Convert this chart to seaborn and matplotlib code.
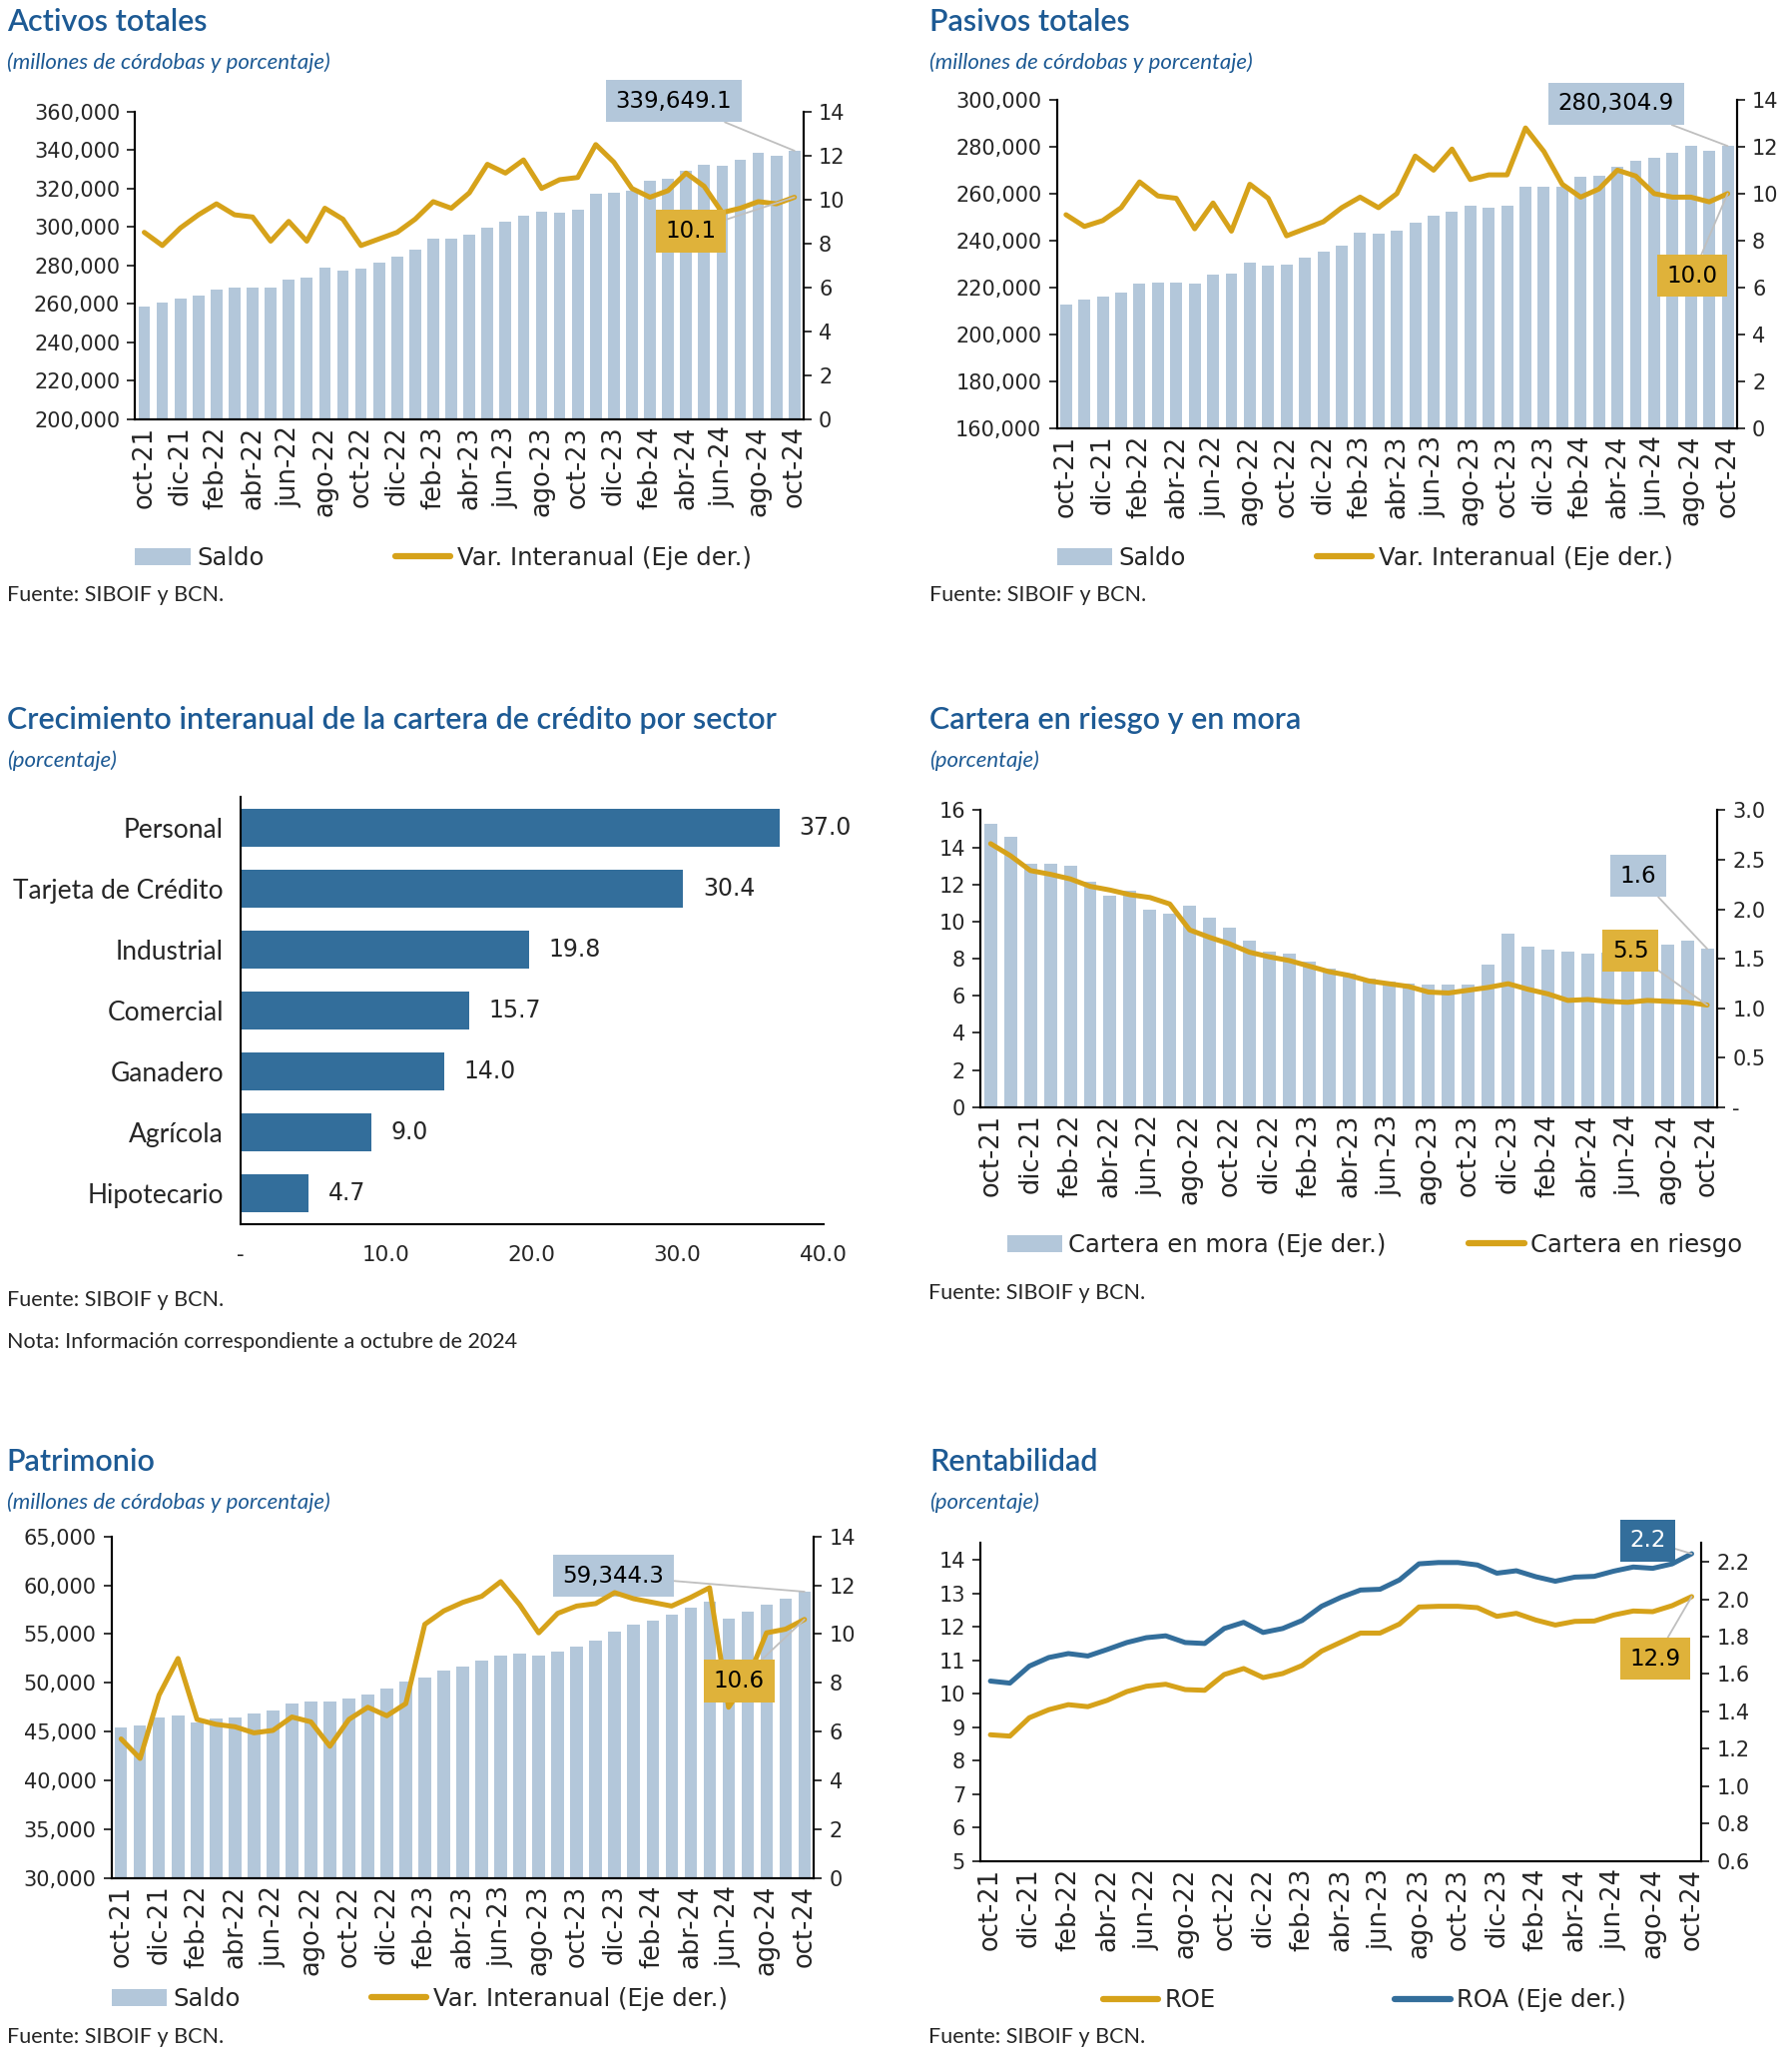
import numpy as np
import pandas as pd
import seaborn as sns
import matplotlib.pyplot as plt
from matplotlib.ticker import FuncFormatter
from matplotlib.lines import Line2D
from matplotlib.patches import Patch

# meses oct-21 .. oct-24
months = ['oct-21', 'nov-21', 'dic-21', 'ene-22', 'feb-22', 'mar-22', 'abr-22', 'may-22', 'jun-22',
          'jul-22', 'ago-22', 'sep-22', 'oct-22', 'nov-22', 'dic-22', 'ene-23', 'feb-23', 'mar-23',
          'abr-23', 'may-23', 'jun-23', 'jul-23', 'ago-23', 'sep-23', 'oct-23', 'nov-23', 'dic-23',
          'ene-24', 'feb-24', 'mar-24', 'abr-24', 'may-24', 'jun-24', 'jul-24', 'ago-24', 'sep-24',
          'oct-24']

activos_saldo = [258300, 260800, 262600, 264300, 267600, 268200, 268600, 268600, 272500, 273600,
                 278800, 277100, 278100, 281600, 284300, 288300, 294000, 294000, 296100, 299600,
                 302900, 305800, 307900, 307500, 309100, 317000, 318000, 318600, 323800, 324800,
                 329400, 332300, 331700, 335000, 338500, 337200, 339649.1]
activos_var = [8.5, 7.9, 8.7, 9.3, 9.8, 9.3, 9.2, 8.1, 9.0, 8.1,
               9.6, 9.1, 7.9, 8.2, 8.5, 9.1, 9.9, 9.6, 10.3, 11.6,
               11.2, 11.8, 10.5, 10.9, 11.0, 12.5, 11.7, 10.5, 10.1, 10.4,
               11.2, 10.6, 9.4, 9.6, 9.9, 9.8, 10.1]

pasivos_saldo = [212500, 215000, 216000, 217600, 221600, 222100, 222100, 221600, 225500, 226000,
                 230600, 229100, 229900, 232800, 235200, 237700, 243300, 243000, 244300, 247500,
                 250400, 252400, 255000, 254000, 255000, 262800, 262800, 262800, 267300, 267800,
                 271400, 273800, 275100, 277500, 280200, 278300, 280304.9]
pasivos_var = [9.1, 8.6, 8.85, 9.4, 10.5, 9.9, 9.8, 8.5, 9.6, 8.4,
               10.4, 9.8, 8.2, 8.5, 8.8, 9.4, 9.85, 9.4, 10.0, 11.6,
               11.0, 11.9, 10.6, 10.8, 10.8, 12.8, 11.8, 10.4, 9.85, 10.2,
               11.0, 10.75, 10.0, 9.85, 9.85, 9.65, 10.0]

sectores = ['Personal', 'Tarjeta de Crédito', 'Industrial', 'Comercial', 'Ganadero', 'Agrícola', 'Hipotecario']
crecimiento = [37.0, 30.4, 19.8, 15.7, 14.0, 9.0, 4.7]

mora = [2.86, 2.73, 2.46, 2.46, 2.44, 2.28, 2.14, 2.19, 2.00, 1.96,
        2.04, 1.91, 1.81, 1.68, 1.57, 1.55, 1.47, 1.40, 1.35, 1.30,
        1.27, 1.25, 1.24, 1.24, 1.24, 1.44, 1.75, 1.62, 1.59, 1.57,
        1.55, 1.56, 1.57, 1.60, 1.64, 1.68, 1.60]
riesgo = [14.2, 13.55, 12.75, 12.55, 12.3, 11.9, 11.7, 11.45, 11.3, 10.95,
          9.55, 9.15, 8.8, 8.35, 8.1, 7.9, 7.6, 7.3, 7.1, 6.8,
          6.65, 6.5, 6.2, 6.15, 6.3, 6.45, 6.65, 6.35, 6.1, 5.75,
          5.8, 5.7, 5.65, 5.75, 5.7, 5.65, 5.5]

patr_saldo = [45400, 45600, 46400, 46700, 45950, 46300, 46500, 46860, 47190, 47850,
              48060, 48060, 48400, 48850, 49400, 50170, 50590, 51300, 51710, 52250,
              52820, 53030, 52820, 53240, 53690, 54350, 55220, 55930, 56340, 57000,
              57710, 58370, 56550, 57340, 58000, 58660, 59344.3]
patr_var = [5.7, 4.9, 7.5, 9.0, 6.5, 6.3, 6.2, 5.95, 6.05, 6.6,
            6.4, 5.4, 6.5, 7.0, 6.65, 7.15, 10.4, 10.95, 11.3, 11.55,
            12.15, 11.2, 10.05, 10.85, 11.15, 11.25, 11.7, 11.45, 11.3, 11.15,
            11.5, 11.9, 7.0, 8.15, 10.05, 10.2, 10.6]

roe = [8.77, 8.73, 9.28, 9.52, 9.67, 9.61, 9.80, 10.06, 10.22, 10.28,
       10.12, 10.10, 10.57, 10.75, 10.48, 10.60, 10.84, 11.27, 11.54, 11.81,
       11.81, 12.08, 12.59, 12.61, 12.61, 12.57, 12.31, 12.40, 12.20, 12.05,
       12.16, 12.17, 12.35, 12.47, 12.45, 12.63, 12.9]
roa = [1.562, 1.551, 1.642, 1.688, 1.709, 1.696, 1.731, 1.768, 1.794, 1.804,
       1.768, 1.763, 1.843, 1.876, 1.822, 1.843, 1.886, 1.962, 2.010, 2.049,
       2.053, 2.103, 2.189, 2.196, 2.196, 2.183, 2.139, 2.152, 2.120, 2.096,
       2.118, 2.122, 2.150, 2.172, 2.165, 2.189, 2.243]

# colours
BAR = '#b3c7da'
GOLD = '#d6a21a'
GOLD_BOX = '#dfb23a'
BLUE = '#336e9b'
TITLE = '#1d5a94'
LEAD = '#bfbfbf'

sns.set_style("white")
plt.rcParams['font.family'] = ['DejaVu Sans']
plt.rcParams['axes.edgecolor'] = 'black'
plt.rcParams['axes.linewidth'] = 1.5
HEAD_FONT = ['Lato', 'DejaVu Sans']

# layout measured on a 1365 x 1561 grid of the reference
W, H = 1365, 1561


def rect(l, t, r, b):
    return [l / W, 1 - b / H, (r - l) / W, (b - t) / H]


def fp(x, y):
    return (x / W, 1 - y / H)


fig = plt.figure(figsize=(17.95, 20.53), dpi=100)
fig.patch.set_facecolor('white')


def header(x, yt, title, sub):
    fig.text(*fp(x, yt), title, fontsize=22, color=TITLE, family=HEAD_FONT, weight='semibold', va='center')
    fig.text(*fp(x, yt + 31), sub, fontsize=16, color=TITLE, family=HEAD_FONT, style='italic', va='center')


def source(x, y, txt='Fuente: SIBOIF y BCN.'):
    fig.text(*fp(x, y), txt, fontsize=15.5, family=HEAD_FONT, va='center')


def month_axis(ax):
    ax.set_xlim(-0.5, 36.5)
    ax.set_xticks(range(0, 37, 2))
    ax.set_xticklabels(months[::2], rotation=90)
    ax.set_xticks(np.arange(-0.5, 36, 2), minor=True)
    ax.tick_params(axis='x', which='major', length=0, pad=5, labelsize=18.5)
    ax.tick_params(axis='x', which='minor', length=7, width=1.3, direction='out')
    ax.set_xlabel('')


def y_style(ax):
    ax.tick_params(axis='y', length=6, width=1.3, direction='out', labelsize=15, pad=5)
    ax.set_ylabel('')
    ax.spines['top'].set_visible(False)


def legend(items, x, y, spacing):
    handles, labels = [], []
    for kind, col, lab in items:
        if kind == 'bar':
            handles.append(Patch(facecolor=col, edgecolor='none'))
        else:
            handles.append(Line2D([], [], color=col, lw=4.5))
        labels.append(lab)
    fig.legend(handles, labels, loc='center left', bbox_to_anchor=fp(x, y), ncol=2, frameon=False,
               fontsize=17.5, handlelength=2.27, handletextpad=0.27, columnspacing=spacing,
               borderpad=0, borderaxespad=0)


def tag(ax, text, xy, pos, fc, color='black'):
    ax.annotate(text, xy=xy, xytext=fp(*pos), textcoords='figure fraction', ha='center', va='center',
                fontsize=16.5, color=color, zorder=10,
                bbox=dict(boxstyle='square,pad=0.42', fc=fc, ec='none'),
                arrowprops=dict(arrowstyle='-', color=LEAD, lw=1.3, shrinkA=0, shrinkB=0))


def saldo_panel(r, saldo, var, ylim, step, box_s, box_v, head, leg_y, src_y):
    df = pd.DataFrame({'mes': months, 'saldo': saldo, 'var': var, 'i': np.arange(len(months))})
    ax = fig.add_axes(rect(*r))
    sns.barplot(data=df, x='mes', y='saldo', color=BAR, saturation=1, width=0.65, linewidth=0, ax=ax)
    ax2 = ax.twinx()
    sns.lineplot(data=df, x='i', y='var', color=GOLD, lw=3.6, ax=ax2, solid_capstyle='round')
    ax.set_ylim(*ylim)
    ax.set_yticks(np.arange(ylim[0], ylim[1] + 1, step))
    ax.yaxis.set_major_formatter(FuncFormatter(lambda v, p: f'{v:,.0f}'))
    ax2.set_ylim(0, 14)
    ax2.set_yticks(range(0, 15, 2))
    y_style(ax)
    y_style(ax2)
    month_axis(ax)
    tag(ax, f'{saldo[-1]:,.1f}', (36, saldo[-1]), box_s, BAR)
    tag(ax2, f'{var[-1]:.1f}', (36, var[-1]), box_v, GOLD_BOX)
    header(head[0], head[1], head[2], '(millones de córdobas y porcentaje)')
    legend([('bar', BAR, 'Saldo'), ('line', GOLD, 'Var. Interanual (Eje der.)')],
           r[0], leg_y, 5.4)
    source(head[0], src_y)


# Activos totales
saldo_panel((103, 85, 612, 319), activos_saldo, activos_var, (200000, 360000), 20000,
            (513, 77), (526, 176), (5, 17, 'Activos totales'), 425, 453)

# Pasivos totales
saldo_panel((805, 76, 1323, 326), pasivos_saldo, pasivos_var, (160000, 300000), 20000,
            (1231, 79), (1289, 210), (708, 17, 'Pasivos totales'), 425, 453)

# Patrimonio
saldo_panel((85, 1170, 620, 1430), patr_saldo, patr_var, (30000, 65000), 5000,
            (467, 1200), (563, 1280), (5, 1113, 'Patrimonio'), 1522, 1551)

# credito por sector
dfc = pd.DataFrame({'sector': sectores, 'crec': crecimiento})
axc = fig.add_axes(rect(183, 607, 627, 932))
sns.barplot(data=dfc, x='crec', y='sector', orient='h', color=BLUE, saturation=1, width=0.62,
            linewidth=0, ax=axc)
axc.set_xlim(0, 40)
axc.set_xticks([0, 10, 20, 30, 40])
axc.xaxis.set_major_formatter(FuncFormatter(lambda v, p: '-' if v == 0 else f'{v:.1f}'))
axc.set_ylim(6.5, -0.5)
axc.set_yticks(np.arange(-0.5, 7, 1), minor=True)
axc.tick_params(axis='y', which='major', length=0, pad=12, labelsize=19)
axc.tick_params(axis='y', which='minor', length=7, width=1.3, direction='out')
axc.tick_params(axis='x', length=7, width=1.3, direction='out', labelsize=15.5, pad=8)
for lbl in axc.get_yticklabels():
    lbl.set_fontfamily(HEAD_FONT)
axc.bar_label(axc.containers[0], fmt='%.1f', padding=14, fontsize=17)
axc.set_xlabel('')
axc.set_ylabel('')
sns.despine(ax=axc)
header(5, 548, 'Crecimiento interanual de la cartera de crédito por sector', '(porcentaje)')
source(5, 990)
source(5, 1022, 'Nota: Información correspondiente a octubre de 2024')

# cartera en riesgo y en mora
dfr = pd.DataFrame({'mes': months, 'mora': mora, 'riesgo': riesgo, 'i': np.arange(len(months))})
axr = fig.add_axes(rect(747, 617, 1308, 843))
axr2 = axr.twinx()
sns.barplot(data=dfr, x='mes', y='mora', color=BAR, saturation=1, width=0.65, linewidth=0, ax=axr2)
sns.lineplot(data=dfr, x='i', y='riesgo', color=GOLD, lw=3.6, ax=axr, solid_capstyle='round')
axr.set_zorder(axr2.get_zorder() + 1)
axr.patch.set_visible(False)
axr.set_ylim(0, 16)
axr.set_yticks(range(0, 17, 2))
axr2.set_ylim(0, 3)
axr2.set_yticks(np.arange(0, 3.01, 0.5))
axr2.yaxis.set_major_formatter(FuncFormatter(lambda v, p: '-' if v == 0 else f'{v:.1f}'))
y_style(axr)
y_style(axr2)
month_axis(axr)
tag(axr2, f'{mora[-1]:.1f}', (36, mora[-1]), (1248, 667), BAR)
tag(axr, f'{riesgo[-1]:.1f}', (36, riesgo[-1]), (1242, 724), GOLD_BOX)
header(708, 548, 'Cartera en riesgo y en mora', '(porcentaje)')
legend([('bar', BAR, 'Cartera en mora (Eje der.)'), ('line', GOLD, 'Cartera en riesgo')], 767, 948, 3.4)
source(707, 985)

# rentabilidad
dft = pd.DataFrame({'i': np.arange(len(months)), 'roe': roe, 'roa': roa})
axt = fig.add_axes(rect(747, 1175, 1296, 1417))
axt2 = axt.twinx()
sns.lineplot(data=dft, x='i', y='roe', color=GOLD, lw=3.6, ax=axt, solid_capstyle='round')
sns.lineplot(data=dft, x='i', y='roa', color=BLUE, lw=3.6, ax=axt2, solid_capstyle='round')
axt.set_ylim(5, 14.5)
axt.set_yticks(range(5, 15))
axt2.set_ylim(0.6, 2.3)
axt2.set_yticks(np.arange(0.6, 2.21, 0.2))
axt2.yaxis.set_major_formatter(FuncFormatter(lambda v, p: f'{v:.1f}'))
y_style(axt)
y_style(axt2)
month_axis(axt)
tag(axt2, f'{roa[-1]:.1f}', (36, roa[-1]), (1255, 1173), BLUE, color='white')
tag(axt, f'{roe[-1]:.1f}', (36, roe[-1]), (1261, 1263), GOLD_BOX)
header(708, 1113, 'Rentabilidad', '(porcentaje)')
legend([('line', GOLD, 'ROE'), ('line', BLUE, 'ROA (Eje der.)')], 840, 1523, 7.4)
source(707, 1551)

plt.savefig("out.png", dpi=100)
